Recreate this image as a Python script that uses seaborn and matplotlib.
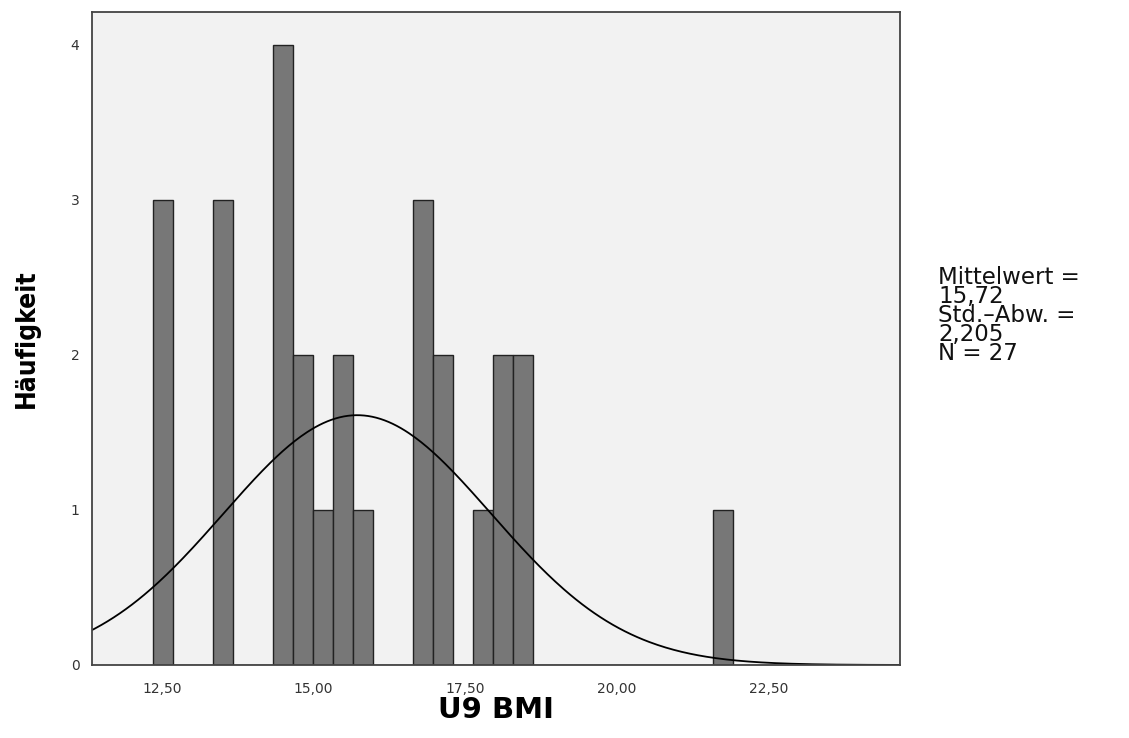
import matplotlib
matplotlib.use("Agg")
import matplotlib.pyplot as plt
import numpy as np
import pandas as pd
import seaborn as sns

# Histogramm U9 BMI (SPSS-Ausgabe)
bin_start = 12.347
bin_width = 0.3297
bin_index = [0, 3, 6, 7, 8, 9, 10, 13, 14, 16, 17, 18, 28]
counts = [3, 3, 4, 2, 1, 2, 1, 3, 2, 1, 2, 2, 1]
n_bins = 29

mittelwert = 15.72
std_abw = 2.205
n_total = 27

x_ticks = [12.5, 15.0, 17.5, 20.0, 22.5]
x_tick_labels = ["12,50", "15,00", "17,50", "20,00", "22,50"]
y_ticks = [0, 1, 2, 3, 4]

edges = bin_start + bin_width * np.arange(n_bins + 1)
centers = bin_start + bin_width * (np.array(bin_index) + 0.5)
df = pd.DataFrame({"bmi": np.repeat(centers, counts)})

sns.set_style("white")
plt.rcParams["font.family"] = ["DejaVu Sans"]

fig = plt.figure(figsize=(11.29, 7.38), dpi=100)
ax = fig.add_axes([92 / 1129, 1 - 665 / 738, (900 - 92) / 1129, (665 - 12) / 738])
ax.set_facecolor("#f2f2f2")

sns.histplot(data=df, x="bmi", bins=edges, color="#777777", alpha=1,
             edgecolor="#222222", linewidth=1.0, ax=ax)

xs = np.linspace(11.3, 24.7, 400)
ys = n_total * bin_width * np.exp(-0.5 * ((xs - mittelwert) / std_abw) ** 2) / (std_abw * np.sqrt(2 * np.pi))
sns.lineplot(x=xs, y=ys, color="black", linewidth=1.3, ax=ax)

ax.set_xlim(11.346, 24.67)
ax.set_ylim(0, 4.21)
ax.set_xticks(x_ticks)
ax.set_xticklabels(x_tick_labels)
ax.set_yticks(y_ticks)
ax.tick_params(axis="both", direction="out", length=6, width=1.2, color="#444444",
               labelsize=10, labelcolor="#333333", pad=3)
ax.tick_params(axis="x", pad=6)
for s in ax.spines.values():
    s.set_color("#444444")
    s.set_linewidth(1.3)

ax.set_xlabel("U9 BMI", fontsize=21, fontweight="bold", labelpad=0, color="black")
ax.set_ylabel("Häufigkeit", fontsize=19, fontweight="bold", labelpad=22, color="black",
              fontstretch="condensed")

fig.text(938 / 1129, 1 - 266 / 738,
         f"Mittelwert =\n{mittelwert:.2f}\nStd.-Abw. =\n{std_abw:.3f}\nN = {n_total}".replace(".", ",").replace("Std,-Abw,", "Std.–Abw."),
         fontsize=16.5, va="top", ha="left", linespacing=0.78, color="#111111")

fig.savefig("out.png", dpi=100)
